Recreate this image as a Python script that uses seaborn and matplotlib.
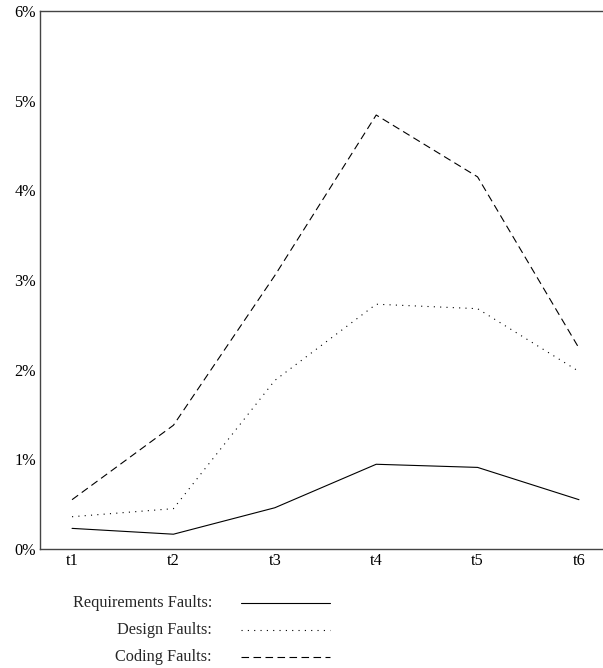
import matplotlib
matplotlib.use("Agg")
import matplotlib.pyplot as plt
from matplotlib.lines import Line2D
from matplotlib.ticker import PercentFormatter
import seaborn as sns
import pandas as pd

periods = ["t1", "t2", "t3", "t4", "t5", "t6"]
requirements = [0.23, 0.165, 0.46, 0.945, 0.91, 0.55]
design = [0.36, 0.45, 1.88, 2.73, 2.68, 1.98]
coding = [0.55, 1.38, 3.05, 4.84, 4.15, 2.24]

names = ["Requirements Faults:", "Design Faults:", "Coding Faults:"]
series = [requirements, design, coding]
dash_styles = ["", (1, 4.7), (6.8, 4.0)]

rows = []
for name, vals in zip(names, series):
    for i, v in enumerate(vals):
        rows.append({"pos": i + 1, "pct": v, "kind": name})
df = pd.DataFrame(rows)

sns.set_theme(style="white")
plt.rcParams["font.family"] = ["Liberation Serif", "DejaVu Serif"]
fs = 11.7

fig = plt.figure(figsize=(6.03, 6.68), dpi=100)
ax = fig.add_axes([40 / 603, 1 - 549 / 668, 1 - 40 / 603, 538 / 668])

sns.lineplot(data=df, x="pos", y="pct", style="kind", style_order=names,
             dashes=dict(zip(names, dash_styles)), color="black",
             linewidth=0.8, legend=False, ax=ax)

ax.set_xlim(0.684, 6.237)
ax.set_ylim(0, 6)
ax.set_xticks(range(1, len(periods) + 1))
ax.set_xticklabels(periods)
ax.set_yticks(range(0, 7))
ax.yaxis.set_major_formatter(PercentFormatter(decimals=0))
ax.tick_params(axis="both", length=0, labelsize=fs, colors="black")
ax.tick_params(axis="y", pad=3)
ax.tick_params(axis="x", pad=3)
ax.set_xlabel("")
ax.set_ylabel("")
for side in ["left", "bottom", "top"]:
    ax.spines[side].set_color("#444444")
    ax.spines[side].set_linewidth(1.0)
ax.spines["right"].set_visible(False)

# key below the plot
key_y = [603, 630, 657]
for name, ds, yy in zip(names, dash_styles, key_y):
    fy = 1 - yy / 668
    fig.text(212 / 603, fy, name, ha="right", va="center", fontsize=fs)
    ln = Line2D([241 / 603, 330 / 603], [fy, fy], transform=fig.transFigure,
                color="black", linewidth=0.8)
    if ds:
        ln.set_dashes(ds)
    fig.add_artist(ln)

fig.savefig("out.png", dpi=100)
